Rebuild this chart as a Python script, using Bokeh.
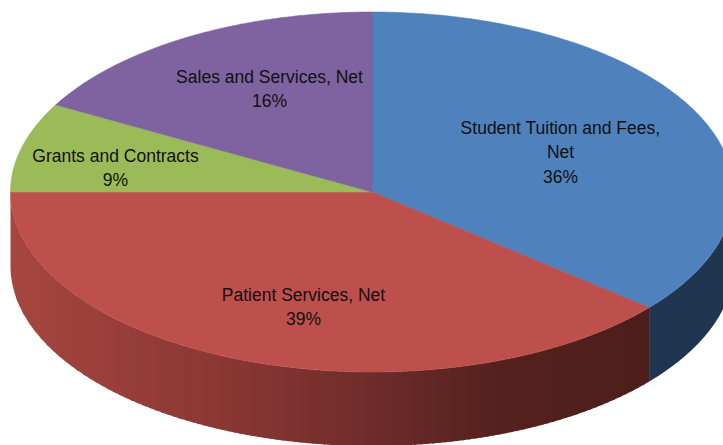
import numpy as np
from bokeh.core.properties import value
from bokeh.embed import file_html
from bokeh.models import ColumnDataSource, Range1d
from bokeh.plotting import figure
from bokeh.resources import INLINE

# Data
categories = ["Student Tuition and Fees,\nNet", "Patient Services, Net", "Grants and Contracts", "Sales and Services, Net"]
percent_labels = ["36%", "39%", "9%", "16%"]
slice_shares = [36.1, 38.9, 8.05, 16.95]

# Styles
top_colors = ["#4f81bd", "#bd504d", "#9bbb59", "#7f62a0"]
side_stops_x = [10, 120, 240, 370, 500, 600, 650]
side_stops_rgb = [(166, 70, 64), (152, 62, 58), (136, 54, 50), (110, 44, 42), (84, 33, 30), (80, 31, 27), (78, 30, 26)]
blue_side = "#1f3550"

# Layout (pixels of the reference picture)
CX, CY, RX, RY, DEPTH = 371.5, 191.5, 361.5, 180.0, 74.0
label_x = [560, 303, 115, 269]
label_y = [127, 294, 155, 76]
LINE = 24.5
STRIP_PX = 6.0
OVERLAP_PX = 2.0

p = figure(width=723, height=445, x_range=Range1d(0, 723), y_range=Range1d(445, 0),
           output_backend="svg", toolbar_location=None, min_border=0, outline_line_color=None)
p.axis.visible = False
p.grid.visible = False
p.background_fill_color = "white"
p.border_fill_color = "white"


def px(t):
    return CX + RX * np.sin(np.radians(t))


def py(t):
    return CY - RY * np.cos(np.radians(t))


def x_to_angle(x):
    return 180.0 - np.degrees(np.arcsin(np.clip((x - CX) / RX, -1, 1)))


edges = np.concatenate([[0.0], np.cumsum(slice_shares)]) * 3.6


def wall(t0, t1, n=12):
    seg = np.linspace(t0, t1, n)
    sx, sy = px(seg), py(seg)
    return list(sx) + list(sx[::-1]), list(sy) + list((sy + DEPTH)[::-1])


# Outer wall: the blue part is one shape, the red part vertical strips painted left to right
bx, by = wall(90.0, edges[1], 60)
p.patch(bx, by, fill_color=blue_side, line_color=None)

x_from, x_to = px(270.0), px(edges[1])
n = int((x_to - x_from) / STRIP_PX)
bounds = np.linspace(x_from, x_to, n + 1)
xs_side, ys_side, col_side = [], [], []
for xa, xb in zip(bounds[:-1], bounds[1:]):
    sx, sy = wall(x_to_angle(min(xb + OVERLAP_PX, x_to)), x_to_angle(xa))
    xs_side.append(sx)
    ys_side.append(sy)
    rgb = [np.interp((xa + xb) / 2, side_stops_x, [c[k] for c in side_stops_rgb]) for k in range(3)]
    col_side.append("#%02x%02x%02x" % tuple(int(round(v)) for v in rgb))
p.patches(xs_side, ys_side, fill_color=col_side, line_color=None)

# Top faces
xs_top, ys_top = [], []
for a0, a1 in zip(edges[:-1], edges[1:]):
    ts = np.linspace(a0, a1, 160)
    xs_top.append([CX] + list(px(ts)))
    ys_top.append([CY] + list(py(ts)))
p.patches(xs_top, ys_top, fill_color=top_colors, line_color=top_colors, line_width=0.6)

# Labels, one glyph per text line
tx, ty, tt = [], [], []
for name, pct, x0, y0 in zip(categories, percent_labels, label_x, label_y):
    for j, line in enumerate(name.split("\n") + [pct]):
        tx.append(x0)
        ty.append(y0 + j * LINE)
        tt.append(line)
p.text(x="x", y="y", text="t", source=ColumnDataSource(dict(x=tx, y=ty, t=tt)),
       text_font=value("Liberation Sans"), text_font_size="17.5px",
       text_color="#111111", text_align="center", text_baseline="middle")

open("out.html", "w").write(file_html(p, INLINE))
